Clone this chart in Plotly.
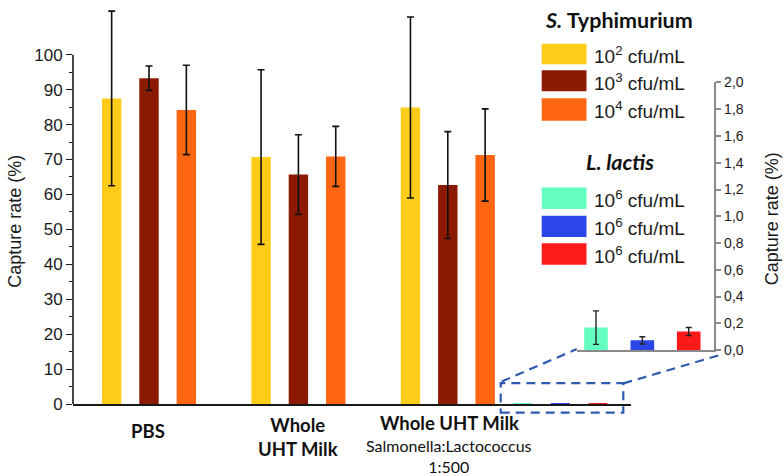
import plotly.graph_objects as go

# ---------------- data ----------------
categories = ["PBS", "Whole UHT Milk", "Whole UHT Milk 1:500"]
cat_main_labels = ["PBS", "Whole<br>UHT Milk", "Whole UHT Milk"]
cat_sub_labels = ["", "", "Salmonella:Lactococcus<br>1:500"]

typh_names = ["10<sup>2</sup> cfu/mL", "10<sup>3</sup> cfu/mL", "10<sup>4</sup> cfu/mL"]
typh_1e2 = [87.5, 70.7, 84.9]
typh_1e2_err = [25.0, 25.0, 25.9]
typh_1e3 = [93.3, 65.7, 62.7]
typh_1e3_err = [3.5, 11.4, 15.3]
typh_1e4 = [84.2, 70.9, 71.3]
typh_1e4_err = [12.8, 8.6, 13.2]

lactis_ids = [0, 1, 2]
lactis_names = ["10<sup>6</sup> cfu/mL", "10<sup>6</sup> cfu/mL", "10<sup>6</sup> cfu/mL"]
lactis_vals = [0.168, 0.073, 0.139]
lactis_err = [0.125, 0.027, 0.03]

main_yticks = list(range(0, 101, 10))
inset_yticks = [0.0, 0.2, 0.4, 0.6, 0.8, 1.0, 1.2, 1.4, 1.6, 1.8, 2.0]

# ---------------- styles ----------------
typh_colors = ["#FFCC1A", "#8B1A00", "#FF6611"]
lactis_colors = ["#66FFC2", "#2A46E8", "#FF1A1A"]
ARIAL = "Liberation Sans"
CAL = "Lato"
W, H = 784, 476
L, B = 73, 72
PW, PH = W - L, H - B


def px(x):
    return (x - L) / PW


def py(y):
    return (H - B - y) / PH


fig = go.Figure()

for vals, errs, col, nm in zip([typh_1e2, typh_1e3, typh_1e4],
                               [typh_1e2_err, typh_1e3_err, typh_1e4_err],
                               typh_colors, typh_names):
    fig.add_trace(go.Bar(
        x=categories, y=vals, name=nm, marker=dict(color=col, line=dict(width=0)),
        error_y=dict(type="data", array=errs, color="#111111", thickness=1.6, width=3.5),
        xaxis="x", yaxis="y", showlegend=False))

# L. lactis on the main scale (tiny bars)
fig.add_trace(go.Bar(
    x=lactis_ids, y=lactis_vals, width=0.5,
    marker=dict(color=lactis_colors, line=dict(width=0)),
    xaxis="x3", yaxis="y", showlegend=False))

# inset
fig.add_trace(go.Bar(
    x=lactis_ids, y=lactis_vals, width=0.51,
    marker=dict(color=lactis_colors, line=dict(width=0)),
    error_y=dict(type="data", array=lactis_err, color="#222222", thickness=1.4, width=3),
    xaxis="x2", yaxis="y2", showlegend=False))

main_right = 631
ymax = (H - B) / 3.563

fig.update_layout(
    width=W, height=H,
    margin=dict(l=L, r=0, t=0, b=B),
    paper_bgcolor="white", plot_bgcolor="white",
    barmode="group", bargap=0.25, bargroupgap=0.48,
    separators=", ",
    font=dict(family=ARIAL, size=14, color="#1a1a1a"),
    xaxis=dict(domain=[0, px(main_right)], type="category",
               range=[(L - 149) / 149.4, (main_right - 149) / 149.4],
               showticklabels=False, ticks="", showline=True, linecolor="#1a1a1a",
               linewidth=1.6, showgrid=False, zeroline=False, fixedrange=True),
    yaxis=dict(domain=[0, 1], range=[0, ymax], tickvals=main_yticks,
               ticks="outside", ticklen=6, tickwidth=1.3, tickcolor="#1a1a1a",
               tickfont=dict(family=ARIAL, size=17, color="#1a1a1a"),
               showline=False, showgrid=False, zeroline=False,
               minor=dict(tickvals=list(range(5, 100, 10)), ticks="outside",
                          ticklen=3, tickwidth=1.2, tickcolor="#1a1a1a", showgrid=False)),
    xaxis3=dict(domain=[0, px(main_right)], overlaying="x", anchor="y",
                range=[(L - 522.5) / 37.75, (main_right - 522.5) / 37.75],
                visible=False, showgrid=False, zeroline=False),
    xaxis2=dict(domain=[px(576.7), px(714.3)], anchor="y2",
                range=[-0.416, 2.552], showticklabels=False, ticks="",
                showline=True, linecolor="#8a8a8a", linewidth=2,
                showgrid=False, zeroline=False),
    yaxis2=dict(domain=[py(349), py(76)], anchor="x2", side="right",
                range=[0, 2.0], tickvals=inset_yticks, tickformat=".1f",
                ticks="outside", ticklen=5, tickwidth=1.5, tickcolor="#8a8a8a",
                tickfont=dict(family=ARIAL, size=14, color="#1a1a1a"),
                showline=True, linecolor="#8a8a8a", linewidth=2,
                showgrid=False, zeroline=False),
)

shapes = []
# main y axis line only from 0 to 100
shapes.append(dict(type="line", xref="paper", yref="y", x0=0, x1=0, y0=0, y1=100,
                   line=dict(color="#1a1a1a", width=1.6)))
# zoom box and connectors
dash_col = "#2F5BB0"
shapes.append(dict(type="rect", xref="paper", yref="paper",
                   x0=px(500.7), x1=px(623.3), y0=py(412.7), y1=py(382.7),
                   line=dict(color=dash_col, width=2.2, dash="9px,6px")))
shapes.append(dict(type="line", xref="paper", yref="paper",
                   x0=px(501.7), y0=py(381), x1=px(576.7), y1=py(348),
                   line=dict(color=dash_col, width=2.2, dash="9px,6px")))
shapes.append(dict(type="line", xref="paper", yref="paper",
                   x0=px(623.3), y0=py(383), x1=px(720), y1=py(354),
                   line=dict(color=dash_col, width=2.2, dash="9px,6px")))

# legend swatches
typh_sw_y = [(36.5, 57.5), (63.5, 85), (92, 115)]
lac_sw_y = [(183, 205), (212, 233.5), (240, 262)]
for (y0, y1), col in zip(typh_sw_y, typh_colors):
    shapes.append(dict(type="rect", xref="paper", yref="paper",
                       x0=px(541.7), x1=px(586.5), y0=py(y1), y1=py(y0),
                       fillcolor=col, line=dict(width=0)))
for (y0, y1), col in zip(lac_sw_y, lactis_colors):
    shapes.append(dict(type="rect", xref="paper", yref="paper",
                       x0=px(541.7), x1=px(586.5), y0=py(y1), y1=py(y0),
                       fillcolor=col, line=dict(width=0)))
fig.update_layout(shapes=shapes)

ann = []
# y-axis titles
ann.append(dict(text="Capture rate (%)", xref="paper", yref="paper",
                x=px(15), y=py(218), textangle=-90, showarrow=False,
                xanchor="center", yanchor="middle",
                font=dict(family=ARIAL, size=18, color="#1a1a1a")))
ann.append(dict(text="Capture rate (%)", xref="paper", yref="paper",
                x=px(771.5), y=py(215), textangle=-90, showarrow=False,
                xanchor="center", yanchor="middle",
                font=dict(family=ARIAL, size=18, color="#1a1a1a")))
# category labels
cat_centers = [147.5, 298, 449]
main_label_y = [432, 438, 423]
for cx, cy, t in zip(cat_centers, main_label_y, cat_main_labels):
    ann.append(dict(text="<b>" + t + "</b>", xref="paper", yref="paper",
                    x=px(cx), y=py(cy), showarrow=False, xanchor="center",
                    yanchor="middle", font=dict(family=CAL, size=18.5, color="#111111")))
for cx, t in zip(cat_centers, cat_sub_labels):
    if t:
        ann.append(dict(text=t, xref="paper", yref="paper",
                        x=px(cx), y=py(457.5), showarrow=False, xanchor="center",
                        yanchor="middle", font=dict(family=CAL, size=16, color="#111111")))
# legend titles
ann.append(dict(text="<b><i>S.</i> Typhimurium</b>", xref="paper", yref="paper",
                x=px(619), y=py(12), showarrow=False, xanchor="center", yanchor="middle",
                font=dict(family=CAL, size=21.5, color="#111111")))
ann.append(dict(text="<b><i>L. lactis</i></b>", xref="paper", yref="paper",
                x=px(620), y=py(157), showarrow=False, xanchor="center", yanchor="middle",
                font=dict(family=CAL, size=21.5, color="#111111")))
for (y0, y1), nm in zip(typh_sw_y, typh_names):
    ann.append(dict(text=nm, xref="paper", yref="paper", x=px(592), y=py((y0 + y1) / 2 + 1),
                    showarrow=False, xanchor="left", yanchor="middle",
                    font=dict(family=ARIAL, size=19, color="#1a1a1a")))
for (y0, y1), nm in zip(lac_sw_y, lactis_names):
    ann.append(dict(text=nm, xref="paper", yref="paper", x=px(592), y=py((y0 + y1) / 2 + 1),
                    showarrow=False, xanchor="left", yanchor="middle",
                    font=dict(family=ARIAL, size=19, color="#1a1a1a")))
fig.update_layout(annotations=ann)

fig.write_html("out.html", config={"displayModeBar": False},
               post_script="document.body.style.margin='0';document.body.style.padding='0';")
